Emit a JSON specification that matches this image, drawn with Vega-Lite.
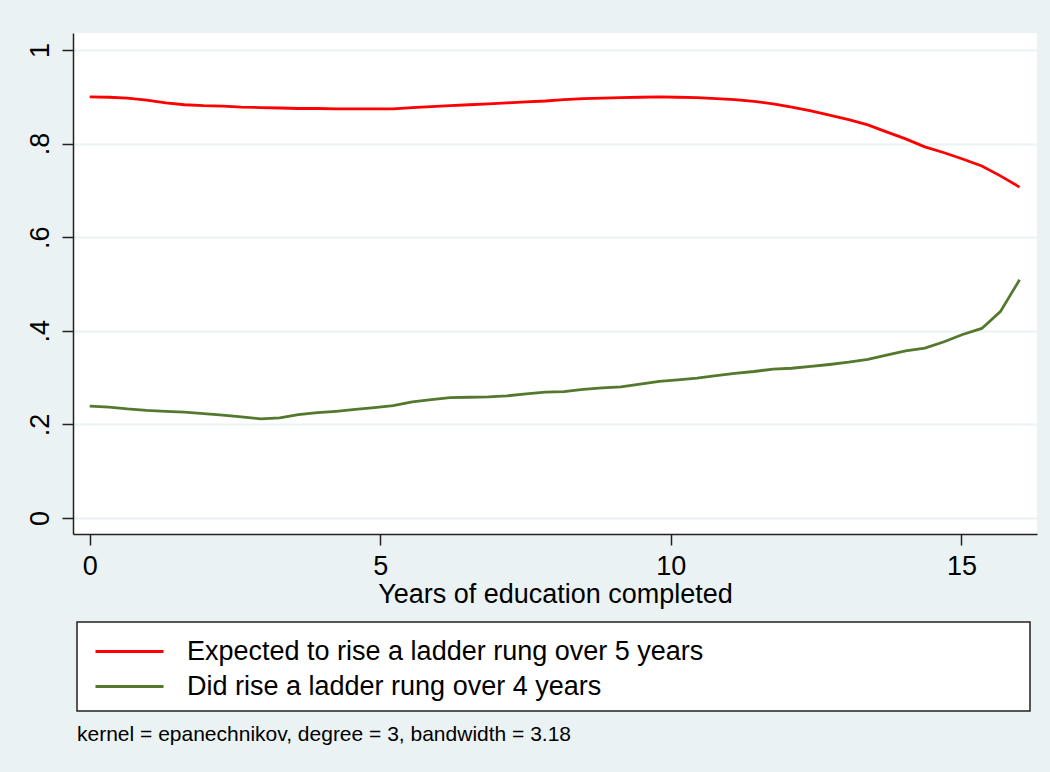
{
  "$schema": "https://vega.github.io/schema/vega-lite/v6.json",
  "autosize": {"type": "none"},
  "width": 964,
  "height": 501,
  "padding": {"left": 73, "top": 33, "right": 13, "bottom": 238},
  "background": "#EAF2F3",
  "config": {
    "font": "Liberation Sans",
    "view": {"stroke": null, "fill": "#ffffff"}
  },
  "title": {
    "text": "kernel = epanechnikov, degree = 3, bandwidth = 3.18",
    "orient": "bottom",
    "anchor": "start",
    "frame": "group",
    "dx": 4,
    "offset": 12,
    "fontSize": 21,
    "fontWeight": "normal",
    "color": "#000000",
    "font": "Liberation Sans"
  },
  "datasets": {
    "curves": [
      {"edu": 0, "share": 0.900, "series": "Expected to rise a ladder rung over 5 years"},
      {"edu": 0.33, "share": 0.899, "series": "Expected to rise a ladder rung over 5 years"},
      {"edu": 0.65, "share": 0.897, "series": "Expected to rise a ladder rung over 5 years"},
      {"edu": 0.98, "share": 0.893, "series": "Expected to rise a ladder rung over 5 years"},
      {"edu": 1.31, "share": 0.887, "series": "Expected to rise a ladder rung over 5 years"},
      {"edu": 1.63, "share": 0.883, "series": "Expected to rise a ladder rung over 5 years"},
      {"edu": 1.96, "share": 0.881, "series": "Expected to rise a ladder rung over 5 years"},
      {"edu": 2.29, "share": 0.880, "series": "Expected to rise a ladder rung over 5 years"},
      {"edu": 2.61, "share": 0.878, "series": "Expected to rise a ladder rung over 5 years"},
      {"edu": 2.94, "share": 0.877, "series": "Expected to rise a ladder rung over 5 years"},
      {"edu": 3.27, "share": 0.876, "series": "Expected to rise a ladder rung over 5 years"},
      {"edu": 3.59, "share": 0.875, "series": "Expected to rise a ladder rung over 5 years"},
      {"edu": 3.92, "share": 0.875, "series": "Expected to rise a ladder rung over 5 years"},
      {"edu": 4.24, "share": 0.874, "series": "Expected to rise a ladder rung over 5 years"},
      {"edu": 4.57, "share": 0.874, "series": "Expected to rise a ladder rung over 5 years"},
      {"edu": 4.9, "share": 0.874, "series": "Expected to rise a ladder rung over 5 years"},
      {"edu": 5.22, "share": 0.874, "series": "Expected to rise a ladder rung over 5 years"},
      {"edu": 5.55, "share": 0.877, "series": "Expected to rise a ladder rung over 5 years"},
      {"edu": 5.88, "share": 0.879, "series": "Expected to rise a ladder rung over 5 years"},
      {"edu": 6.2, "share": 0.881, "series": "Expected to rise a ladder rung over 5 years"},
      {"edu": 6.53, "share": 0.883, "series": "Expected to rise a ladder rung over 5 years"},
      {"edu": 6.86, "share": 0.885, "series": "Expected to rise a ladder rung over 5 years"},
      {"edu": 7.18, "share": 0.887, "series": "Expected to rise a ladder rung over 5 years"},
      {"edu": 7.51, "share": 0.889, "series": "Expected to rise a ladder rung over 5 years"},
      {"edu": 7.84, "share": 0.891, "series": "Expected to rise a ladder rung over 5 years"},
      {"edu": 8.16, "share": 0.894, "series": "Expected to rise a ladder rung over 5 years"},
      {"edu": 8.49, "share": 0.896, "series": "Expected to rise a ladder rung over 5 years"},
      {"edu": 8.82, "share": 0.897, "series": "Expected to rise a ladder rung over 5 years"},
      {"edu": 9.14, "share": 0.898, "series": "Expected to rise a ladder rung over 5 years"},
      {"edu": 9.47, "share": 0.899, "series": "Expected to rise a ladder rung over 5 years"},
      {"edu": 9.8, "share": 0.900, "series": "Expected to rise a ladder rung over 5 years"},
      {"edu": 10.12, "share": 0.899, "series": "Expected to rise a ladder rung over 5 years"},
      {"edu": 10.45, "share": 0.898, "series": "Expected to rise a ladder rung over 5 years"},
      {"edu": 10.78, "share": 0.896, "series": "Expected to rise a ladder rung over 5 years"},
      {"edu": 11.1, "share": 0.894, "series": "Expected to rise a ladder rung over 5 years"},
      {"edu": 11.43, "share": 0.890, "series": "Expected to rise a ladder rung over 5 years"},
      {"edu": 11.76, "share": 0.885, "series": "Expected to rise a ladder rung over 5 years"},
      {"edu": 12.08, "share": 0.878, "series": "Expected to rise a ladder rung over 5 years"},
      {"edu": 12.41, "share": 0.870, "series": "Expected to rise a ladder rung over 5 years"},
      {"edu": 12.73, "share": 0.861, "series": "Expected to rise a ladder rung over 5 years"},
      {"edu": 13.06, "share": 0.851, "series": "Expected to rise a ladder rung over 5 years"},
      {"edu": 13.39, "share": 0.840, "series": "Expected to rise a ladder rung over 5 years"},
      {"edu": 13.71, "share": 0.825, "series": "Expected to rise a ladder rung over 5 years"},
      {"edu": 14.04, "share": 0.810, "series": "Expected to rise a ladder rung over 5 years"},
      {"edu": 14.37, "share": 0.793, "series": "Expected to rise a ladder rung over 5 years"},
      {"edu": 14.69, "share": 0.781, "series": "Expected to rise a ladder rung over 5 years"},
      {"edu": 15.02, "share": 0.767, "series": "Expected to rise a ladder rung over 5 years"},
      {"edu": 15.35, "share": 0.752, "series": "Expected to rise a ladder rung over 5 years"},
      {"edu": 15.67, "share": 0.731, "series": "Expected to rise a ladder rung over 5 years"},
      {"edu": 16.0, "share": 0.707, "series": "Expected to rise a ladder rung over 5 years"},
      {"edu": 0, "share": 0.239, "series": "Did rise a ladder rung over 4 years"},
      {"edu": 0.33, "share": 0.237, "series": "Did rise a ladder rung over 4 years"},
      {"edu": 0.65, "share": 0.233, "series": "Did rise a ladder rung over 4 years"},
      {"edu": 0.98, "share": 0.230, "series": "Did rise a ladder rung over 4 years"},
      {"edu": 1.31, "share": 0.228, "series": "Did rise a ladder rung over 4 years"},
      {"edu": 1.63, "share": 0.226, "series": "Did rise a ladder rung over 4 years"},
      {"edu": 1.96, "share": 0.223, "series": "Did rise a ladder rung over 4 years"},
      {"edu": 2.29, "share": 0.220, "series": "Did rise a ladder rung over 4 years"},
      {"edu": 2.61, "share": 0.216, "series": "Did rise a ladder rung over 4 years"},
      {"edu": 2.94, "share": 0.212, "series": "Did rise a ladder rung over 4 years"},
      {"edu": 3.27, "share": 0.214, "series": "Did rise a ladder rung over 4 years"},
      {"edu": 3.59, "share": 0.221, "series": "Did rise a ladder rung over 4 years"},
      {"edu": 3.92, "share": 0.225, "series": "Did rise a ladder rung over 4 years"},
      {"edu": 4.24, "share": 0.228, "series": "Did rise a ladder rung over 4 years"},
      {"edu": 4.57, "share": 0.232, "series": "Did rise a ladder rung over 4 years"},
      {"edu": 4.9, "share": 0.236, "series": "Did rise a ladder rung over 4 years"},
      {"edu": 5.22, "share": 0.240, "series": "Did rise a ladder rung over 4 years"},
      {"edu": 5.55, "share": 0.248, "series": "Did rise a ladder rung over 4 years"},
      {"edu": 5.88, "share": 0.253, "series": "Did rise a ladder rung over 4 years"},
      {"edu": 6.2, "share": 0.257, "series": "Did rise a ladder rung over 4 years"},
      {"edu": 6.53, "share": 0.258, "series": "Did rise a ladder rung over 4 years"},
      {"edu": 6.86, "share": 0.259, "series": "Did rise a ladder rung over 4 years"},
      {"edu": 7.18, "share": 0.261, "series": "Did rise a ladder rung over 4 years"},
      {"edu": 7.51, "share": 0.265, "series": "Did rise a ladder rung over 4 years"},
      {"edu": 7.84, "share": 0.269, "series": "Did rise a ladder rung over 4 years"},
      {"edu": 8.16, "share": 0.270, "series": "Did rise a ladder rung over 4 years"},
      {"edu": 8.49, "share": 0.275, "series": "Did rise a ladder rung over 4 years"},
      {"edu": 8.82, "share": 0.278, "series": "Did rise a ladder rung over 4 years"},
      {"edu": 9.14, "share": 0.280, "series": "Did rise a ladder rung over 4 years"},
      {"edu": 9.47, "share": 0.286, "series": "Did rise a ladder rung over 4 years"},
      {"edu": 9.8, "share": 0.292, "series": "Did rise a ladder rung over 4 years"},
      {"edu": 10.12, "share": 0.295, "series": "Did rise a ladder rung over 4 years"},
      {"edu": 10.45, "share": 0.299, "series": "Did rise a ladder rung over 4 years"},
      {"edu": 10.78, "share": 0.304, "series": "Did rise a ladder rung over 4 years"},
      {"edu": 11.1, "share": 0.309, "series": "Did rise a ladder rung over 4 years"},
      {"edu": 11.43, "share": 0.313, "series": "Did rise a ladder rung over 4 years"},
      {"edu": 11.76, "share": 0.318, "series": "Did rise a ladder rung over 4 years"},
      {"edu": 12.08, "share": 0.320, "series": "Did rise a ladder rung over 4 years"},
      {"edu": 12.41, "share": 0.324, "series": "Did rise a ladder rung over 4 years"},
      {"edu": 12.73, "share": 0.328, "series": "Did rise a ladder rung over 4 years"},
      {"edu": 13.06, "share": 0.333, "series": "Did rise a ladder rung over 4 years"},
      {"edu": 13.39, "share": 0.339, "series": "Did rise a ladder rung over 4 years"},
      {"edu": 13.71, "share": 0.348, "series": "Did rise a ladder rung over 4 years"},
      {"edu": 14.04, "share": 0.357, "series": "Did rise a ladder rung over 4 years"},
      {"edu": 14.37, "share": 0.363, "series": "Did rise a ladder rung over 4 years"},
      {"edu": 14.69, "share": 0.376, "series": "Did rise a ladder rung over 4 years"},
      {"edu": 15.02, "share": 0.392, "series": "Did rise a ladder rung over 4 years"},
      {"edu": 15.35, "share": 0.405, "series": "Did rise a ladder rung over 4 years"},
      {"edu": 15.67, "share": 0.441, "series": "Did rise a ladder rung over 4 years"},
      {"edu": 16.0, "share": 0.509, "series": "Did rise a ladder rung over 4 years"}
    ]
  },
  "data": {"name": "curves"},
  "mark": {"type": "line", "strokeWidth": 2.8, "interpolate": "linear"},
  "encoding": {
    "x": {
      "field": "edu",
      "type": "quantitative",
      "scale": {"domain": [-0.287, 16.3], "nice": false, "zero": false},
      "axis": {
        "values": [0, 5, 10, 15],
        "title": "Years of education completed",
        "titleFontSize": 27,
        "titleFontWeight": "normal",
        "titleColor": "#000000",
        "titlePadding": 2,
        "labelFontSize": 27,
        "labelColor": "#000000",
        "labelPadding": 8,
        "labelFlush": false,
        "tickSize": 11,
        "tickColor": "#222222",
        "tickWidth": 1.5,
        "domainColor": "#222222",
        "domainWidth": 1.5,
        "grid": false
      }
    },
    "y": {
      "field": "share",
      "type": "quantitative",
      "scale": {"domain": [-0.0342, 1.0363], "nice": false, "zero": false},
      "axis": {
        "values": [0, 0.2, 0.4, 0.6, 0.8, 1],
        "labelExpr": "datum.value == 0 ? '0' : datum.value == 1 ? '1' : replace(format(datum.value, '.1f'), '0.', '.')",
        "title": null,
        "labelAngle": -90,
        "labelFontSize": 27,
        "labelColor": "#000000",
        "labelPadding": 8,
        "labelFlush": false,
        "tickSize": 11,
        "tickColor": "#222222",
        "tickWidth": 1.5,
        "domainColor": "#222222",
        "domainWidth": 1.5,
        "grid": true,
        "gridColor": "#EAF2F3",
        "gridWidth": 1.8
      }
    },
    "color": {
      "field": "series",
      "type": "nominal",
      "scale": {
        "domain": ["Expected to rise a ladder rung over 5 years", "Did rise a ladder rung over 4 years"],
        "range": ["#FF0000", "#55782F"]
      },
      "legend": {
        "orient": "none",
        "legendX": 4,
        "legendY": 589,
        "title": null,
        "direction": "vertical",
        "symbolType": "M-2,0H2",
        "symbolSize": 1156,
        "symbolStrokeWidth": 2.8,
        "symbolOffset": 23,
        "labelFontSize": 27,
        "labelColor": "#000000",
        "labelOffset": 39,
        "labelLimit": 2000,
        "labelExpr": "datum.label + '\u00a0\u00a0\u00a0\u00a0\u00a0\u00a0\u00a0\u00a0\u00a0\u00a0\u00a0\u00a0\u00a0\u00a0\u00a0\u00a0\u00a0\u00a0\u00a0\u00a0\u00a0\u00a0\u00a0\u00a0\u00a0\u00a0\u00a0\u00a0\u00a0\u00a0\u00a0\u00a0\u00a0\u00a0\u00a0\u00a0\u00a0\u00a0\u00a0\u00a0\u00a0\u00a0\u200b'",
        "rowPadding": 3,
        "padding": 11,
        "strokeColor": "#222222",
        "fillColor": "#ffffff",
        "encode": {"legend": {"update": {"strokeWidth": {"value": 1.5}}}}
      }
    }
  }
}
